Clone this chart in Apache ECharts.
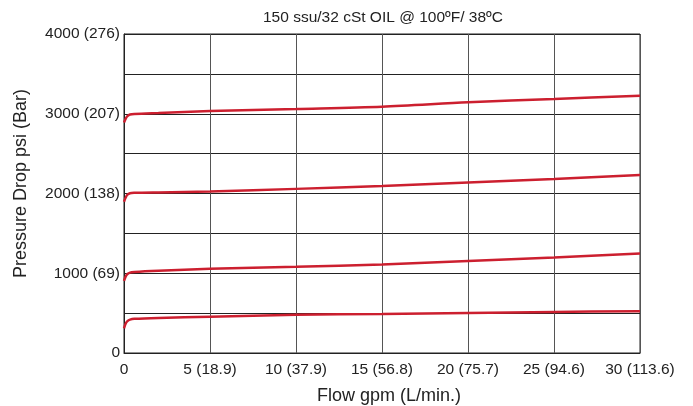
<!DOCTYPE html>
<html>
<head>
<meta charset="utf-8">
<script src="https://cdn.jsdelivr.net/npm/echarts@6/dist/echarts.min.js"></script>
<style>html,body{margin:0;padding:0;background:#fff;}#c{width:693px;height:406px;}</style>
</head>
<body>
<div id="c"></div>
<script>
var flowGpm = [0, 0.1, 0.2, 0.35, 0.6, 2, 5, 10, 15, 20, 25, 30];
var curve3000 = [2890, 2940, 2970, 2990, 2998, 3010, 3034, 3060, 3088, 3143, 3185, 3226];
var curve2000 = [1897, 1950, 1985, 2003, 2008, 2014, 2025, 2058, 2095, 2138, 2183, 2233];
var curve1000 = [905, 960, 990, 1008, 1015, 1030, 1055, 1080, 1110, 1153, 1198, 1248];
var curve500 = [310, 370, 400, 418, 428, 440, 455, 480, 490, 502, 515, 525];
var xTickLabels = {0: '0', 5: '5 (18.9)', 10: '10 (37.9)', 15: '15 (56.8)', 20: '20 (75.7)', 25: '25 (94.6)', 30: '30 (113.6)'};
var yTickLabels = {0: '0', 1000: '1000 (69)', 2000: '2000 (138)', 3000: '3000 (207)', 4000: '4000 (276)'};

function pairs(ys) { return flowGpm.map(function (x, i) { return [x, ys[i]]; }); }
var font = 'Liberation Sans, Arial, sans-serif';
var red = '#cc1f2f';
function line(ys) {
  return { type: 'line', data: pairs(ys), smooth: 0.3, showSymbol: false, symbol: 'none',
    lineStyle: { color: red, width: 2.5 }, z: 5 };
}
var chart = echarts.init(document.getElementById('c'));
chart.setOption({
  animation: false,
  title: { text: '150 ssu/32 cSt OIL @ 100ºF/ 38ºC', left: 258, top: 5,
    textStyle: { fontFamily: font, fontSize: 15.5, fontWeight: 'normal', color: '#222' } },
  grid: { left: 124, right: 53, top: 34, bottom: 53, show: true, borderColor: '#222', borderWidth: 1,
    outerBoundsMode: 'none', containLabel: false },
  xAxis: {
    type: 'value', min: 0, max: 30, interval: 5,
    name: 'Flow gpm (L/min.)', nameLocation: 'middle', nameGap: 34,
    nameTextStyle: { fontFamily: font, fontSize: 18, color: '#222', padding: [0, 0, 0, 14] },
    axisLine: { show: true, lineStyle: { color: '#222', width: 1 } },
    axisTick: { show: false },
    axisLabel: { fontFamily: font, fontSize: 15.5, color: '#222', margin: 9,
      formatter: function (v) { return xTickLabels[v] || ''; } },
    splitLine: { show: true, lineStyle: { color: '#555', width: 1 } }
  },
  yAxis: {
    type: 'value', min: 0, max: 4000, interval: 500,
    name: 'Pressure Drop psi (Bar)', nameLocation: 'middle', nameGap: 94, nameRotate: 90,
    nameTextStyle: { fontFamily: font, fontSize: 18, color: '#222', padding: [0, 0, 0, 20] },
    axisLine: { show: true, lineStyle: { color: '#222', width: 1 } },
    axisTick: { show: false },
    axisLabel: { fontFamily: font, fontSize: 15.5, color: '#222', margin: 4,
      formatter: function (v) { return yTickLabels[v] || ''; } },
    splitLine: { show: true, lineStyle: { color: '#222', width: 1 } }
  },
  series: [line(curve3000), line(curve2000), line(curve1000), line(curve500)]
});
</script>
</body>
</html>
